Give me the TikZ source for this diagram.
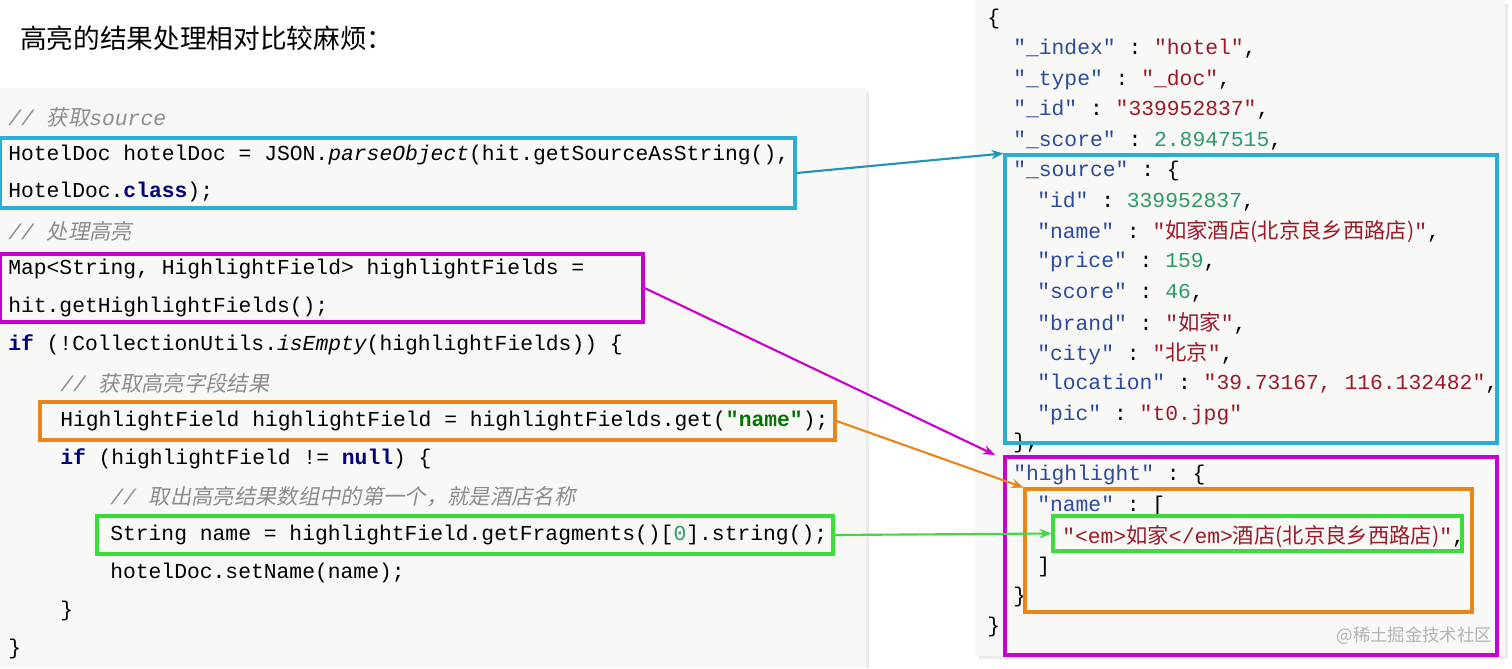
\documentclass[tikz,border=0pt]{standalone}
\usepackage{fontspec}
\setmainfont{Liberation Sans}
\setmonofont{Liberation Mono}
\newfontfamily\cjk{Noto Sans CJK SC}
\newfontfamily\cjki{Noto Sans CJK SC}[FakeSlant=0.2]
\usetikzlibrary{fit,arrows.meta}
\definecolor{kw}{HTML}{000080}
\definecolor{cm}{HTML}{8C8C8C}
\definecolor{jk}{HTML}{2B4A9C}
\definecolor{js}{HTML}{9A1A2A}
\definecolor{jn}{HTML}{2E9A6A}
\definecolor{cblue}{HTML}{2AAED6}
\definecolor{cmag}{HTML}{CC00CC}
\definecolor{corg}{HTML}{E8861A}
\definecolor{cgrn}{HTML}{3ADD3A}
\definecolor{bg}{HTML}{F8F8F6}
\newcommand\KW[1]{\textcolor{kw}{\bfseries #1}}
\newcommand\CM[1]{\textcolor{cm}{\itshape #1}}
\newcommand\JK[1]{\textcolor{jk}{#1}}
\newcommand\JS[1]{\textcolor{js}{#1}}
\newcommand\JN[1]{\textcolor{jn}{#1}}
\tikzset{
 t/.style={anchor=west,inner sep=0,font=\ttfamily\fontsize{16}{17}\selectfont},
 box/.style={draw=#1,line width=2.3pt,inner sep=0},
 arr/.style={draw=#1,line width=1.6pt,-{Stealth[length=9pt,width=7pt]}},
}
\begin{document}
\begin{tikzpicture}[x=0.75pt,y=-0.75pt]
\useasboundingbox (0,0) rectangle (1512,668);
\fill[white] (0,0) rectangle (1512,668);
% panels
\fill[black!8] (4,92) rectangle (869,668);
\fill[bg] (0,88) rectangle (866,668);
\fill[black!8] (979,4) rectangle (1508,659);
\fill[bg] (975,0) rectangle (1505,656);
\node[anchor=west,inner sep=0,font=\cjk\fontsize{20}{22}\selectfont] (title) at (20,38) {高亮的结果处理相对比较麻烦：};
% code
\node[t] (c1) at (8,117) {\CM{// {\cjki 获取}source}};
\node[t] (c2) at (8,155) {HotelDoc hotelDoc = JSON.{\itshape parseObject}(hit.getSourceAsString(),};
\node[t] (c3) at (8,192) {HotelDoc.\KW{class});};
\node[t] (c4) at (8,231) {\CM{// {\cjki 处理高亮}}};
\node[t] (c5) at (8,269) {Map<String, HighlightField> highlightFields =};
\node[t] (c6) at (8,307) {hit.getHighlightFields();};
\node[t] (c7) at (8,345) {\KW{if} (!CollectionUtils.{\itshape isEmpty}(highlightFields)) \{};
\node[t] (c8) at (60,383) {\CM{// {\cjki 获取高亮字段结果}}};
\node[t] (c9) at (60,421) {HighlightField highlightField = highlightFields.get(\textcolor{green!45!black}{\bfseries "name"});};
\node[t] (c10) at (60,459) {\KW{if} (highlightField != \KW{null}) \{};
\node[t] (c11) at (110,497) {\CM{// {\cjki 取出高亮结果数组中的第一个，就是酒店名称}}};
\node[t] (c12) at (110,535) {String name = highlightField.getFragments()[\textcolor{jn}{0}].string();};
\node[t] (c13) at (110,573) {hotelDoc.setName(name);};
\node[t] (c14) at (60,611) {\}};
\node[t] (c15) at (8,649) {\}};
% json
\node[t] (j1) at (987,19) {\{};
\node[t] (j2) at (1013,49) {\JK{"\_index"} : \JS{"hotel"},};
\node[t] (j3) at (1013,80) {\JK{"\_type"} : \JS{"\_doc"},};
\node[t] (j4) at (1013,110) {\JK{"\_id"} : \JS{"339952837"},};
\node[t] (j5) at (1013,141) {\JK{"\_score"} : \JN{2.8947515},};
\node[t] (j6) at (1013,171) {\JK{"\_source"} : \{};
\node[t] (j7) at (1037,202) {\JK{"id"} : \JN{339952837},};
\node[t] (j8) at (1037,232) {\JK{"name"} : \JS{"{\cjk 如家酒店(北京良乡西路店)}"},};
\node[t] (j9) at (1037,262) {\JK{"price"} : \JN{159},};
\node[t] (j10) at (1037,293) {\JK{"score"} : \JN{46},};
\node[t] (j11) at (1037,323) {\JK{"brand"} : \JS{"{\cjk 如家}"},};
\node[t] (j12) at (1037,354) {\JK{"city"} : \JS{"{\cjk 北京}"},};
\node[t] (j13) at (1037,384) {\JK{"location"} : \JS{"39.73167, 116.132482"},};
\node[t] (j14) at (1037,415) {\JK{"pic"} : \JS{"t0.jpg"}};
\node[t] (j15) at (1013,443) {\},};
\node[t] (j16) at (1013,475) {\JK{"highlight"} : \{};
\node[t] (j17) at (1037,506) {\JK{"name"} : [};
\node[t] (j18) at (1062,537) {\JS{"<em>{\cjk 如家}</em>{\cjk 酒店(北京良乡西路店)}"},};
\node[t] (j19) at (1037,567) {]};
\node[t] (j20) at (1013,597) {\}};
\node[t] (j21) at (987,627) {\}};
\node[anchor=east,inner sep=0,text=black!30,font=\cjk\fontsize{13}{14}\selectfont] (wm) at (1492,636) {@稀土掘金技术社区};
% boxes
\node[box=cblue,fit={(0,138)(795,208)}] (b1) {};
\node[box=cmag,fit={(0,254)(643,322)}] (m1) {};
\node[box=corg,fit={(40,402)(835,440)}] (o1) {};
\node[box=cgrn,fit={(97,516)(833,554)}] (g1) {};
\node[box=cblue,fit={(1005,155)(1497,443)}] (b2) {};
\node[box=cmag,fit={(1005,457)(1497,655)}] (m2) {};
\node[box=corg,fit={(1025,489)(1472,612)}] (o2) {};
\node[box=cgrn,fit={(1053,516)(1462,551)}] (g2) {};
\coordinate (mt) at (995,455);
% arrows
\draw[arr=cblue!85!black] (b1.east) -- (b2.north west);
\draw[arr=cmag] (m1.east) -- (mt);
\draw[arr=corg] (o1.east) -- (o2.north west);
\draw[arr=cgrn] (g1.east) -- (g2.west);
\end{tikzpicture}
\end{document}
